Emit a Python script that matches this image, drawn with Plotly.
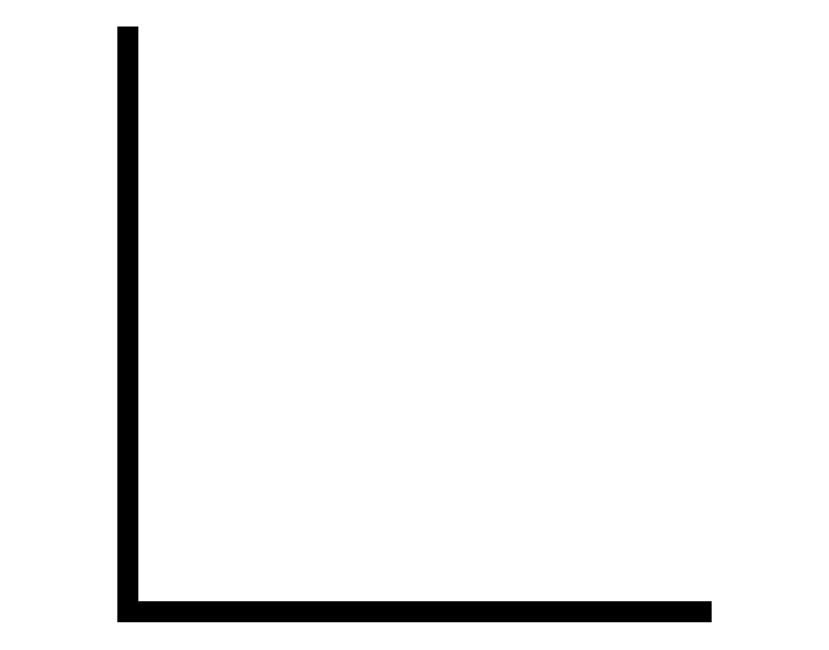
import plotly.graph_objects as go

# The chart is an empty frame: only the left and bottom axis lines are drawn.
x_extent = [0, 1]
y_extent = [0, 1]
# visible axis window (padding around the frame)
x_range = [-0.223, 1.223]
y_range = [-0.0666, 1.0644]

# axis frame path: top of y axis -> origin -> end of x axis
frame_x = [x_extent[0], x_extent[0], x_extent[1]]
frame_y = [y_extent[1], y_extent[0], y_extent[0]]

fig = go.Figure()
fig.add_trace(go.Scatter(
    x=frame_x, y=frame_y, mode="lines",
    line=dict(color="#000000", width=21),
    hoverinfo="skip", showlegend=False,
))

fig.update_layout(
    width=829, height=650,
    margin=dict(l=0, r=0, t=0, b=0, pad=0),
    paper_bgcolor="white", plot_bgcolor="white",
    xaxis=dict(range=x_range, visible=False, fixedrange=True),
    yaxis=dict(range=y_range, visible=False, fixedrange=True),
)

post = """
document.body.style.margin='0';
document.body.style.padding='0';
var gd = document.querySelector('.js-plotly-plot');
function rnd(){
  document.querySelectorAll('.js-line').forEach(function(p){
    p.style.strokeLinecap='square';
    p.style.strokeLinejoin='miter';
    p.style.strokeMiterlimit='4';
  });
}
rnd();
if (gd && gd.on) { gd.on('plotly_afterplot', rnd); }
"""

fig.write_html("out.html", post_script=post, config={"displayModeBar": False})
